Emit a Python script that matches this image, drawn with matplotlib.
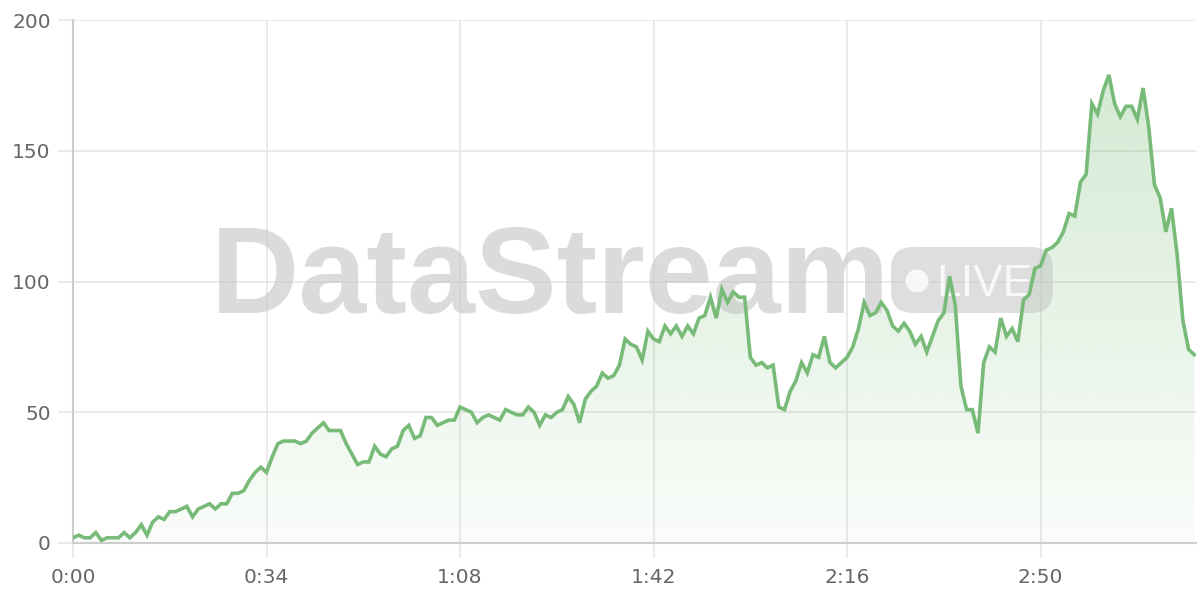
import numpy as np
import matplotlib.pyplot as plt
import matplotlib.ticker as ticker
from matplotlib.patches import FancyBboxPatch, Circle

# Values per second (0 .. 197 s)
values = [
    2, 3, 2, 2, 4, 1, 2, 2, 2, 4,
    2, 4, 7, 3, 8, 10, 9, 12, 12, 13,
    14, 10, 13, 14, 15, 13, 15, 15, 19, 19,
    20, 24, 27, 29, 27, 33, 38, 39, 39, 39,
    38, 39, 42, 44, 46, 43, 43, 43, 38, 34,
    30, 31, 31, 37, 34, 33, 36, 37, 43, 45,
    40, 41, 48, 48, 45, 46, 47, 47, 52, 51,
    50, 46, 48, 49, 48, 47, 51, 50, 49, 49,
    52, 50, 45, 49, 48, 50, 51, 56, 53, 46,
    55, 58, 60, 65, 63, 64, 68, 78, 76, 75,
    70, 81, 78, 77, 83, 80, 83, 79, 83, 80,
    86, 87, 94, 86, 97, 92, 96, 94, 94, 71,
    68, 69, 67, 68, 52, 51, 58, 62, 69, 65,
    72, 71, 79, 69, 67, 69, 71, 75, 82, 92,
    87, 88, 92, 89, 83, 81, 84, 81, 76, 79,
    73, 79, 85, 88, 102, 91, 60, 51, 51, 42,
    69, 75, 73, 86, 79, 82, 77, 93, 95, 105,
    106, 112, 113, 115, 119, 126, 125, 138, 141, 168,
    164, 173, 179, 168, 163, 167, 167, 162, 174, 159,
    137, 132, 119, 128, 110, 85, 74, 72,
]
seconds = np.arange(len(values))

x_ticks = [0, 34, 68, 102, 136, 170]
y_ticks = [0, 50, 100, 150, 200]

line_color = '#78bb78'
grid_color = '#e6e6e6'
label_color = '#666666'

fig = plt.figure(figsize=(12, 6), dpi=100)
ax = fig.add_axes([73 / 1200, 1 - 543 / 600, (1196 - 73) / 1200, (543 - 20) / 600])

# Gradient fill under the line
poly = ax.fill_between(seconds, values, 0, color='none', lw=0)
grad = np.linspace(0.04, 0.32, 256).reshape(-1, 1)
rgba = np.zeros((256, 1, 4))
rgba[..., 0] = 120 / 255
rgba[..., 1] = 190 / 255
rgba[..., 2] = 120 / 255
rgba[..., 3] = grad
img = ax.imshow(rgba, extent=[0, len(values) - 1, 0, 180], origin='lower',
                aspect='auto', zorder=1)
path = poly.get_paths()[0]
img.set_clip_path(path, transform=ax.transData)

ax.plot(seconds, values, color=line_color, lw=2.6, zorder=4,
        solid_joinstyle='miter')

ax.set_xlim(0, 197.3)
ax.set_ylim(0, 200)

ax.set_xticks(x_ticks)
ax.set_xticklabels([f'{t // 60}:{t % 60:02d}' for t in x_ticks])
ax.set_yticks(y_ticks)

ax.grid(True, color=grid_color, lw=1.2, zorder=0)
ax.set_axisbelow(True)
for s in ['top', 'right']:
    ax.spines[s].set_visible(False)
ax.spines['left'].set_color('#cccccc')
ax.spines['bottom'].set_color('#cccccc')
ax.spines['left'].set_linewidth(1.5)
ax.spines['bottom'].set_linewidth(1.5)

ax.tick_params(axis='both', length=11, width=1.2, color=grid_color,
               labelcolor=label_color, labelsize=14.5)
ax.tick_params(axis='y', pad=5)
ax.tick_params(axis='x', pad=7)

# Watermark (positions in pixels -> inches via dpi_scale_trans)
px = fig.dpi_scale_trans
def inch(x, y):
    return x / 100, (600 - y) / 100

ax.text(*inch(211, 313), 'DataStream', transform=px,
        family='Liberation Sans', weight='bold', fontsize=88,
        color='#c4c4c4', alpha=0.6, va='baseline', ha='left', zorder=2)
box = FancyBboxPatch(inch(891, 313), 1.62, 0.66,
                     boxstyle='round,pad=0,rounding_size=0.22',
                     transform=px, fc='#c4c4c4', ec='none',
                     alpha=0.55, zorder=2)
ax.add_artist(box)
ax.add_artist(Circle(inch(917, 281), 0.115, transform=px,
                     fc='white', ec='none', alpha=0.8, zorder=2.1))
ax.text(*inch(936, 296), 'LIVE', transform=px,
        family='Liberation Sans', fontsize=32, color='white', alpha=0.8,
        va='baseline', ha='left', zorder=2.1)

fig.savefig('out.png', dpi=100, facecolor='white')
